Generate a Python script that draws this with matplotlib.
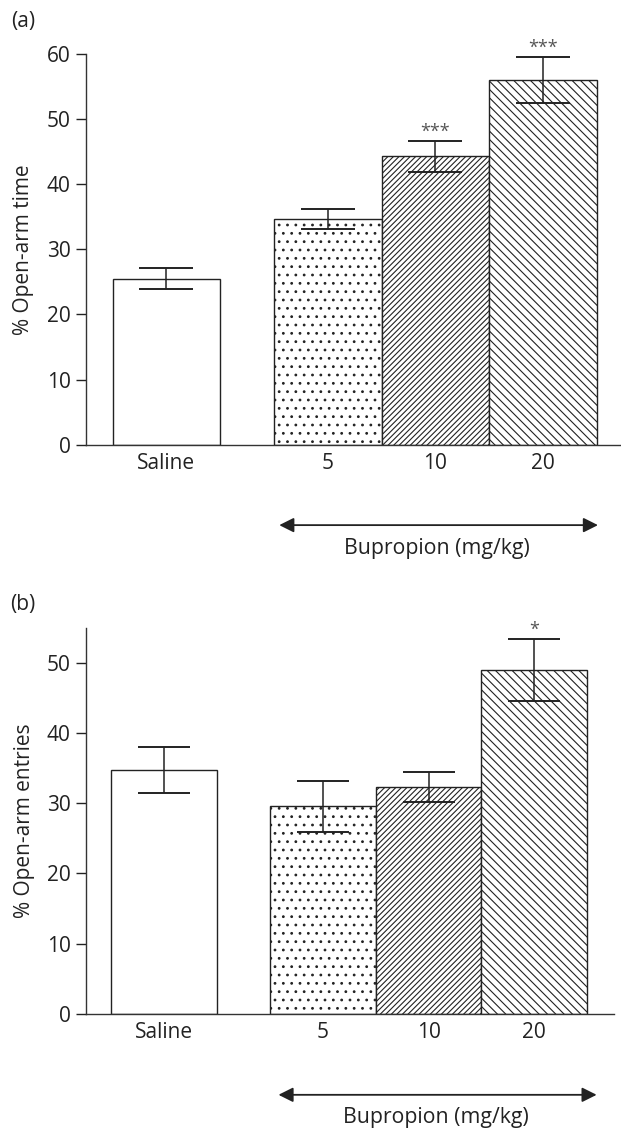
import matplotlib
matplotlib.use("Agg")
import matplotlib.pyplot as plt

plt.rcParams['font.family'] = ['Open Sans', 'DejaVu Sans']
plt.rcParams['hatch.linewidth'] = 0.8

# ---- data ----
categories = ['Saline', '5', '10', '20']
positions = [0.0, 1.5, 2.5, 3.5]
hatches = ['', '..', '//////', '\\\\\\\\']

time_mean = [25.5, 34.7, 44.4, 56.0]
time_lo = [23.9, 33.1, 41.9, 52.4]
time_hi = [27.2, 36.2, 46.7, 59.5]
time_sig = ['', '', '***', '***']

entries_mean = [34.7, 29.6, 32.3, 48.9]
entries_lo = [31.5, 25.9, 30.1, 44.5]
entries_hi = [38.0, 33.1, 34.4, 53.3]
entries_sig = ['', '', '', '*']

W, H = 621, 1128
DPI = 100
INK = '#222222'
FS = 15
fig = plt.figure(figsize=(W / DPI, H / DPI), dpi=DPI)


def panel(rect, xlim, ymax, yticks, means, lo, hi, sig, ylabel, letter, letter_y,
          arrow_x, arrow_y, lab_y, unit_px):
    ax = fig.add_axes(rect)
    ax.bar(positions, means, width=1.0, color='white', edgecolor=INK,
           hatch=hatches, linewidth=1.0, zorder=2)
    yerr = [[m - l for m, l in zip(means, lo)], [h - m for m, h in zip(means, hi)]]
    cap_pt = 0.25 * unit_px * 72 / DPI
    ax.errorbar(positions, means, yerr=yerr, fmt='none', ecolor=INK,
                elinewidth=1.1, capsize=cap_pt, capthick=1.4, zorder=3)
    for x, h, s in zip(positions, hi, sig):
        if s:
            ax.annotate(s, xy=(x, h), xytext=(0, 3), textcoords='offset points',
                        ha='center', va='baseline', fontsize=13, color='#555555',
                        annotation_clip=False)
    ax.set_xlim(*xlim)
    ax.set_ylim(0, ymax)
    ax.set_yticks(yticks)
    ax.set_xticks(positions)
    ax.set_xticklabels(categories)
    ax.tick_params(axis='x', length=0, pad=6, labelsize=FS, colors=INK)
    ax.tick_params(axis='y', length=7, width=1.0, pad=4, labelsize=FS, colors=INK)
    for s in ['top', 'right']:
        ax.spines[s].set_visible(False)
    for s in ['left', 'bottom']:
        ax.spines[s].set_color('#333333')
        ax.spines[s].set_linewidth(1.0)
    ax.set_ylabel(ylabel, fontsize=FS, color=INK)
    ax.yaxis.set_label_coords(-0.097, 0.5)
    ax.annotate('', xy=(arrow_x[0], arrow_y), xytext=(arrow_x[1], arrow_y),
                xycoords='data', textcoords='data', annotation_clip=False,
                arrowprops=dict(arrowstyle='<|-|>', color=INK, lw=1.3,
                                mutation_scale=22, shrinkA=0, shrinkB=0))
    ax.text((arrow_x[0] + arrow_x[1]) / 2 - 0.02, lab_y, 'Bupropion (mg/kg)',
            ha='center', va='center', fontsize=FS + 0.3, color=INK, clip_on=False)
    fig.text(23 / W, 1 - letter_y / H, letter, ha='center', va='center',
             fontsize=FS, color=INK)
    return ax


# panel (a): y=0 at 444.7 px, y=60 at 54 px, x from 86 px, 107.6 px/unit
ua = 107.6
xa = (-0.748, -0.748 + (W - 86) / ua)
panel([86 / W, (H - 444.7) / H, (W - 86) / W, (444.7 - 54) / H],
      xa, 60, [0, 10, 20, 30, 40, 50, 60],
      time_mean, time_lo, time_hi, time_sig, '% Open-arm time', '(a)', 22,
      (1.048, 4.01), -12.35, -15.9, ua)

# panel (b): y=0 at 1014 px, y=55 at 627.5 px, 105.7 px/unit
ub = 105.7
xb = (-0.741, 4.25)
panel([86 / W, (H - 1014) / H, (xb[1] - xb[0]) * ub / W, (1014 - 627.5) / H],
      xb, 55, [0, 10, 20, 30, 40, 50],
      entries_mean, entries_lo, entries_hi, entries_sig, '% Open-arm entries', '(b)', 604,
      (1.08, 4.09), -11.5, -14.7, ub)

fig.savefig('out.png', dpi=DPI)
